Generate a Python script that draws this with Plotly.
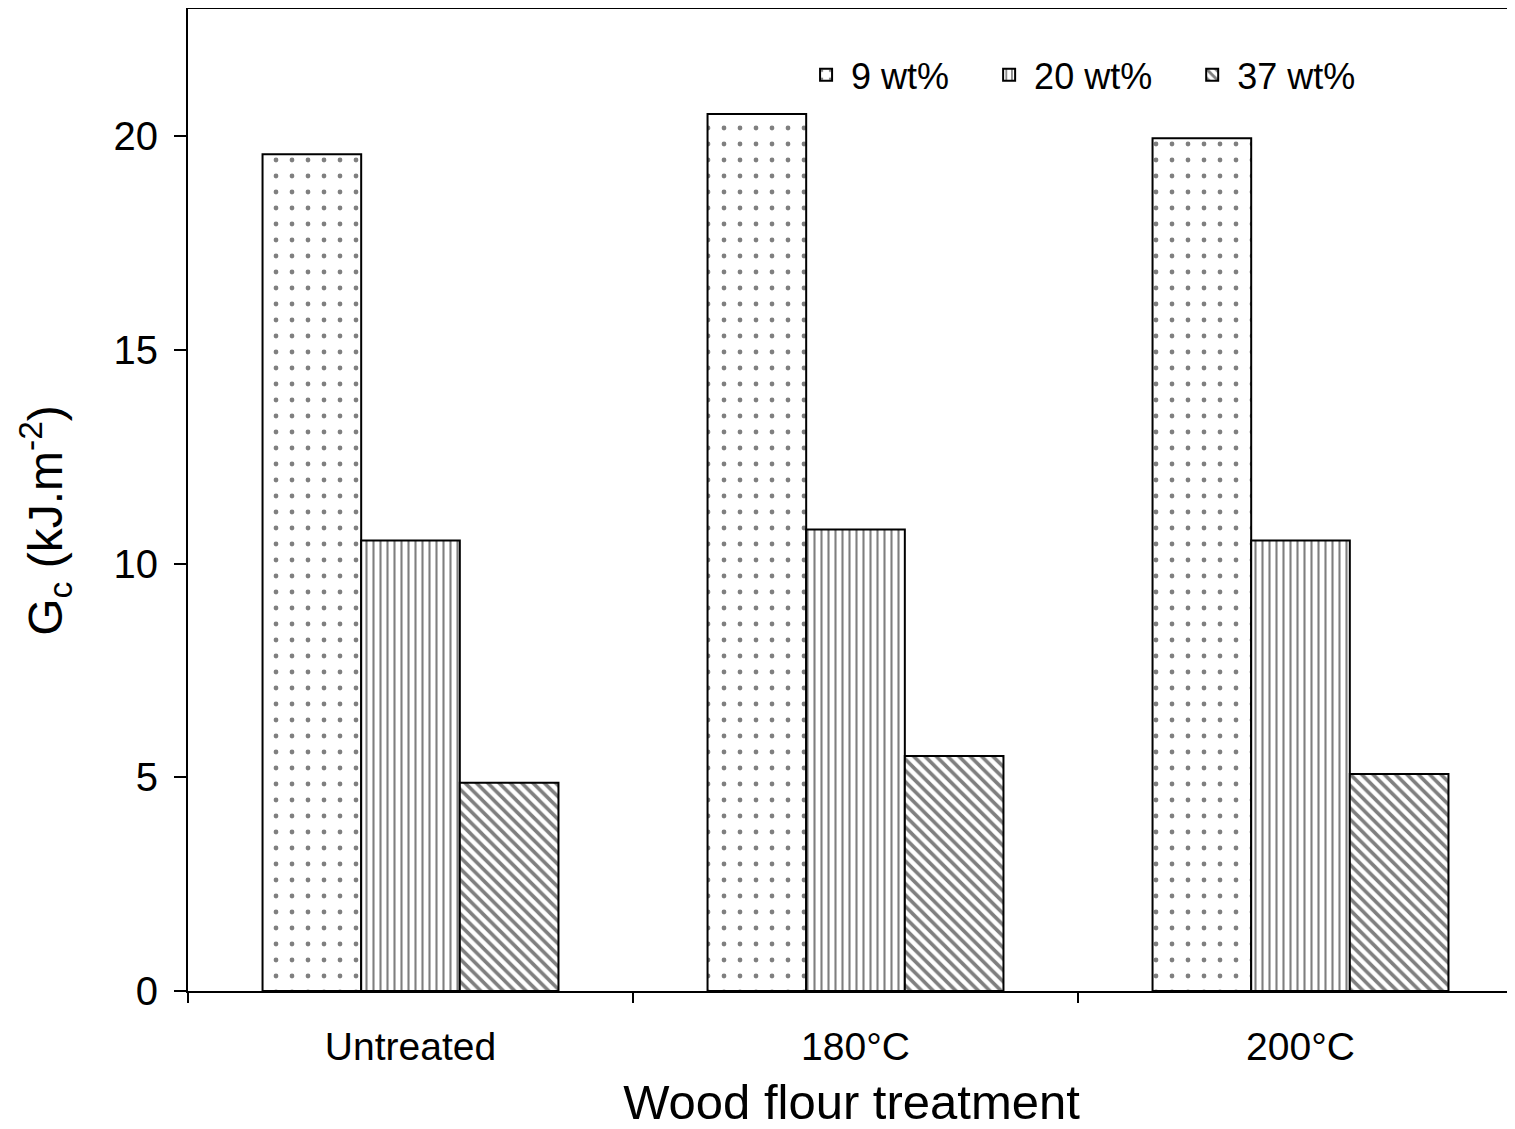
import plotly.graph_objects as go

categories = ["Untreated", "180°C", "200°C"]
series_names = ["9 wt%", "20 wt%", "37 wt%"]
gc_9 = [19.58, 20.52, 19.95]
gc_20 = [10.54, 10.80, 10.54]
gc_37 = [4.87, 5.50, 5.08]

values = [gc_9, gc_20, gc_37]
legend_pad = ["\u00a0\u00a0\u00a0", "\u00a0\u00a0\u00a0", ""]
patterns = [
    dict(shape=".", fgcolor="black", bgcolor="white", size=16, solidity=0.07),
    dict(shape="|", fgcolor="black", bgcolor="white", size=7, solidity=0.3),
    dict(shape="\\", fgcolor="black", bgcolor="white", size=8, solidity=0.45),
]

FONT = "Liberation Sans, Arial, sans-serif"

fig = go.Figure()
for name, pad, vals, pat in zip(series_names, legend_pad, values, patterns):
    fig.add_trace(go.Bar(
        x=categories, y=vals, name=name + pad,
        marker=dict(color="white", pattern=pat,
                    line=dict(color="black", width=2)),
    ))

fig.update_layout(
    width=1507, height=1121,
    margin=dict(l=180, r=0, t=0, b=138),
    paper_bgcolor="white", plot_bgcolor="white",
    barmode="group", bargap=0.335, bargroupgap=0,
    font=dict(family=FONT, color="black", size=34),
    showlegend=True,
    legend=dict(orientation="h", x=0.462, xanchor="left", y=0.932, yanchor="middle",
                font=dict(size=36, family=FONT), bgcolor="rgba(0,0,0,0)",
                itemwidth=40, tracegroupgap=0),
    xaxis=dict(range=[-0.5, 2.482], showline=True, linecolor="black", linewidth=2,
               ticks="outside", tickson="boundaries", ticklen=10, tickwidth=1.5,
               tickcolor="black", showgrid=False, zeroline=False, automargin=False,
               tickfont=dict(size=39, family=FONT), ticklabelstandoff=20,
               title=dict(text="Wood flour treatment", font=dict(size=49, family=FONT), standoff=38)),
    yaxis=dict(range=[0, 23], dtick=5, showline=True, linecolor="black", linewidth=2,
               ticks="outside", ticklen=12, tickwidth=1.5, tickcolor="black",
               showgrid=False, zeroline=False, automargin=False,
               tickfont=dict(size=40, family=FONT), ticklabelstandoff=8),
)

fig.add_annotation(text="G<sub>c</sub> (kJ.m<sup>-2</sup>)", textangle=-90,
                   xref="paper", yref="paper", x=-0.108, y=0.479,
                   xanchor="center", yanchor="middle", showarrow=False,
                   font=dict(size=48, family=FONT))

fig.add_shape(type="line", xref="paper", yref="paper", x0=0, x1=1, y0=1, y1=1,
              line=dict(color="black", width=2))

fig.write_html("out.html")
